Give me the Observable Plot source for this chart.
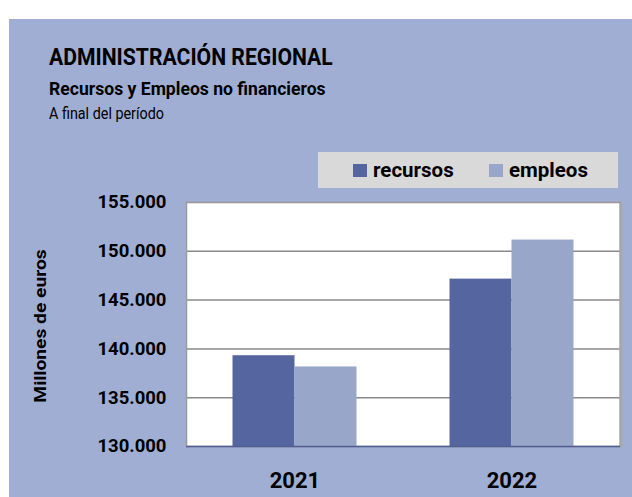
<!DOCTYPE html>
<html>
<head>
<meta charset="utf-8">
<script src="https://cdn.jsdelivr.net/npm/d3@7"></script>
<script src="https://cdn.jsdelivr.net/npm/@observablehq/plot@0.6"></script>
<style>
  html, body { margin: 0; padding: 0; background: #fff; }
  #root { position: relative; width: 632px; height: 497px; overflow: hidden; font-family: Roboto, "Open Sans", sans-serif; }
  #panel { position: absolute; left: 9px; top: 19px; width: 623px; height: 478px; background: #A0AED3; }
  .t { position: absolute; color: #000; white-space: nowrap; line-height: 1; transform-origin: 0 0; }
  #title { left: 49px; top: 46px; font-size: 23px; font-weight: 700; transform: scaleX(0.92); }
  #subtitle { left: 49px; top: 80px; font-size: 18.5px; font-weight: 700; transform: scaleX(0.95); }
  #note { left: 49px; top: 106px; font-size: 16.5px; transform: scaleX(0.87); }
  #legend { position: absolute; left: 318px; top: 152px; width: 300px; height: 36px; background: #D9D9D9; }
  .sw { position: absolute; width: 14px; height: 13px; top: 12px; }
  .lt { position: absolute; top: 8px; font-size: 20.5px; font-weight: 700; line-height: 1; }
  #ylab { position: absolute; left: 40px; top: 326px; transform: translate(-50%, -50%) rotate(-90deg) scaleX(1.13); font-size: 17px; font-weight: 700; white-space: nowrap; }
  #chart { position: absolute; left: 9px; top: 19px; }
</style>
</head>
<body>
<div id="root">
  <div id="panel"></div>
  <div id="chart"></div>
  <div class="t" id="title">ADMINISTRACIÓN REGIONAL</div>
  <div class="t" id="subtitle">Recursos y Empleos no financieros</div>
  <div class="t" id="note">A final del período</div>
  <div id="legend"></div>
  <div id="ylab">Millones de euros</div>
</div>
<script>
const years = ["2021", "2022"];
const seriesNames = ["recursos", "empleos"];
const seriesColors = ["#5465A0", "#98A6CA"];
const recursos = [139300, 147150];
const empleos = [138150, 151150];
const yTicks = [130000, 135000, 140000, 145000, 150000, 155000];

const rows = [];
years.forEach((y, i) => {
  rows.push({year: y, serie: "recursos", value: recursos[i]});
  rows.push({year: y, serie: "empleos", value: empleos[i]});
});

const fmt = d => d3.format(",")(d).replace(/,/g, ".");
const base = yTicks[0];

const chart = Plot.plot({
  width: 623,
  height: 478,
  marginTop: 183,
  marginBottom: 51,
  marginLeft: 177,
  marginRight: 12,
  style: {background: "transparent", fontFamily: "Roboto, 'Open Sans', sans-serif", color: "#000"},
  x: {domain: years, padding: 0},
  y: {domain: [yTicks[0], yTicks[yTicks.length - 1]]},
  marks: [
    Plot.frame({fill: "#fff", stroke: "none"}),
    Plot.gridY(yTicks, {stroke: "#8a8a8a", strokeOpacity: 1, strokeWidth: 1.5}),
    Plot.barY(rows.filter(d => d.serie === "recursos"), {x: "year", y1: base, y2: "value", fill: seriesColors[0], insetLeft: 46.5, insetRight: 108.5}),
    Plot.barY(rows.filter(d => d.serie === "empleos"), {x: "year", y1: base, y2: "value", fill: seriesColors[1], insetLeft: 108.5, insetRight: 46.5}),
    Plot.frame({anchor: "left", stroke: "#9a9a9a", strokeWidth: 1.5}),
    Plot.frame({anchor: "right", stroke: "#a6a6a6", strokeWidth: 2.5}),
    Plot.frame({anchor: "top", stroke: "#9a9a9a", strokeWidth: 1}),
    Plot.ruleY([base], {stroke: "#4F5F95", strokeWidth: 1.5}),
    Plot.axisY(yTicks, {tickSize: 0, tickPadding: 20, tickFormat: fmt, fontSize: 18.5, fontWeight: 700, label: null}),
    Plot.axisX({tickSize: 0, tickPadding: 26, fontSize: 22, fontWeight: 700, label: null})
  ]
});
document.getElementById("chart").appendChild(chart);

const legend = document.getElementById("legend");
const swX = [35, 171];
const txX = [55, 191];
seriesNames.forEach((name, i) => {
  const sw = document.createElement("div");
  sw.className = "sw";
  sw.style.left = swX[i] + "px";
  sw.style.background = seriesColors[i];
  legend.appendChild(sw);
  const tx = document.createElement("div");
  tx.className = "lt";
  tx.style.left = txX[i] + "px";
  tx.textContent = name;
  legend.appendChild(tx);
});
</script>
</body>
</html>
